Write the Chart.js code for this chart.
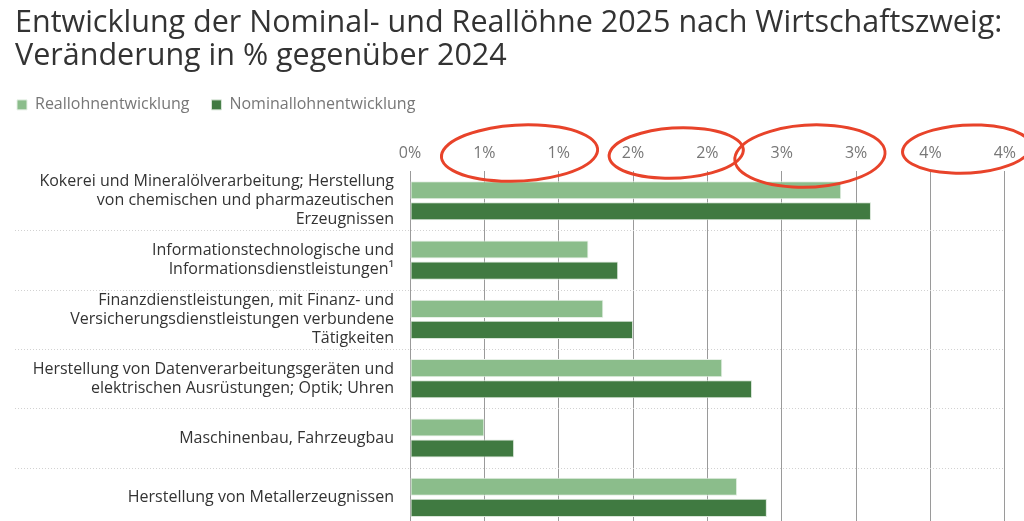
<!DOCTYPE html>
<html lang="de">
<head>
<meta charset="utf-8">
<title>Nominal- und Reallöhne 2025 nach Wirtschaftszweig</title>
<script src="https://cdn.jsdelivr.net/npm/chart.js@4.4.1/dist/chart.umd.min.js"></script>
<style>
  html, body { margin: 0; padding: 0; background: #fff; overflow: hidden; }
  #wrap { position: relative; width: 1024px; height: 530px; }
</style>
</head>
<body>
<div id="wrap"><canvas id="lohnChart"></canvas></div>
<script>
// Daten (Veränderung in % gegenüber 2024)
const categories = [
  ['Kokerei und Mineralölverarbeitung; Herstellung', 'von chemischen und pharmazeutischen', 'Erzeugnissen'],
  ['Informationstechnologische und', 'Informationsdienstleistungen¹'],
  ['Finanzdienstleistungen, mit Finanz- und', 'Versicherungsdienstleistungen verbundene', 'Tätigkeiten'],
  ['Herstellung von Datenverarbeitungsgeräten und', 'elektrischen Ausrüstungen; Optik; Uhren'],
  ['Maschinenbau, Fahrzeugbau'],
  ['Herstellung von Metallerzeugnissen']
];
const reallohn = [2.9, 1.2, 1.3, 2.1, 0.5, 2.2];
const nominallohn = [3.1, 1.4, 1.5, 2.3, 0.7, 2.4];
const tickLabels = ['0%', '1%', '1%', '2%', '2%', '3%', '3%', '4%', '4%'];
// pairs of ticks circled in red (duplicate labels)
const markedTicks = [[1, 2], [3, 4], [5, 6], [7, 8]];

const FONT = "'Open Sans', 'Noto Sans', sans-serif";

// dotted separators between the rows, running under the labels too
const rowLines = {
    id: 'rowLines',
    beforeDatasetsDraw(chart) {
        const y = chart.scales.y;
        const ctx = chart.ctx;
        ctx.save();
        ctx.strokeStyle = '#d2d2d2';
        ctx.lineWidth = 1;
        ctx.setLineDash([1, 2]);
        for (let i = 1; i < categories.length; i++) {
            const py = Math.round((y.getPixelForValue(i - 1) + y.getPixelForValue(i)) / 2) + 0.5;
            ctx.beginPath();
            ctx.moveTo(15, py);
            ctx.lineTo(chart.chartArea.right, py);
            ctx.stroke();
        }
        ctx.restore();
    }
};

// hand drawn red circles around the doubled tick labels
// shape tweaks per circle: [dx, extra radius x, radius y, dy]
const circleShapes = [[-2, 41, 28, 0], [6, 30, 25, 0], [-9, 38, 31, 3], [-1, 27, 24, -4]];
const redMarks = {
    id: 'redMarks',
    afterDraw(chart) {
        const x = chart.scales.x;
        const ctx = chart.ctx;
        const cy = x.bottom - 18;
        ctx.save();
        ctx.strokeStyle = '#e8432a';
        ctx.lineWidth = 3;
        ctx.lineCap = 'round';
        markedTicks.forEach(([a, b], i) => {
            const [dx, pad, ry, dy] = circleShapes[i];
            const xa = x.getPixelForTick(a);
            const xb = x.getPixelForTick(b);
            ctx.beginPath();
            ctx.ellipse((xa + xb) / 2 + dx, cy + dy, (xb - xa) / 2 + pad, ry, -0.05, -Math.PI * 0.42, Math.PI * 1.62);
            ctx.stroke();
        });
        ctx.restore();
    }
};

// shift legend so its first box lines up with the title
const legendShift = {
    id: 'legendShift',
    afterLayout(chart) {
        chart.legend.left -= 20;
        chart.legend.right -= 20;
    }
};

const ctx = document.getElementById('lohnChart').getContext('2d');
const lohnChart = new Chart(ctx, {
    type: 'bar',
    data: {
        labels: categories,
        datasets: [{
            label: 'Reallohnentwicklung',
            data: reallohn,
            backgroundColor: '#8bbd8b',
            borderColor: '#e6f0e6',
            borderWidth: 1,
            borderSkipped: false
        }, {
            label: 'Nominallohnentwicklung',
            data: nominallohn,
            backgroundColor: '#407a41',
            borderColor: '#d9e6d9',
            borderWidth: 1,
            borderSkipped: false
        }]
    },
    options: {
        indexAxis: 'y',
        responsive: true,
        maintainAspectRatio: false,
        animation: false,
        layout: {
            padding: { left: 15, right: 18, top: 0, bottom: 3 }
        },
        datasets: {
            bar: { categoryPercentage: 0.71, barPercentage: 0.86 }
        },
        plugins: {
            title: {
                display: true,
                text: ['Entwicklung der Nominal- und Reallöhne 2025 nach Wirtschaftszweig:', 'Veränderung in % gegenüber 2024'],
                align: 'start',
                color: '#333',
                font: { family: FONT, size: 30.5, weight: 'normal', lineHeight: 1.08 },
                padding: { top: 7, bottom: 2 }
            },
            legend: {
                align: 'start',
                labels: {
                    boxWidth: 10,
                    boxHeight: 10,
                    color: '#777',
                    padding: 22,
                    font: { family: FONT, size: 16 }
                }
            },
            tooltip: { enabled: false }
        },
        scales: {
            x: {
                position: 'top',
                min: 0,
                max: 4,
                afterFit(scale) { scale.height += 13; },
                ticks: {
                    stepSize: 0.5,
                    callback: (v, i) => tickLabels[i],
                    color: '#777',
                    padding: 8,
                    font: { family: FONT, size: 16 }
                },
                grid: { color: '#9a9a9a', drawTicks: false },
                border: { display: false }
            },
            y: {
                afterFit(scale) {
                    scale.width = 395;
                    scale.paddingTop = 0;
                    scale.paddingBottom = 0;
                },
                grid: { display: false },
                border: { color: '#9a9a9a' },
                ticks: {
                    autoSkip: false,
                    color: '#333',
                    padding: 8,
                    font: { family: FONT, size: 16, lineHeight: 1.19 }
                }
            }
        }
    },
    plugins: [rowLines, redMarks, legendShift]
});
</script>
</body>
</html>
